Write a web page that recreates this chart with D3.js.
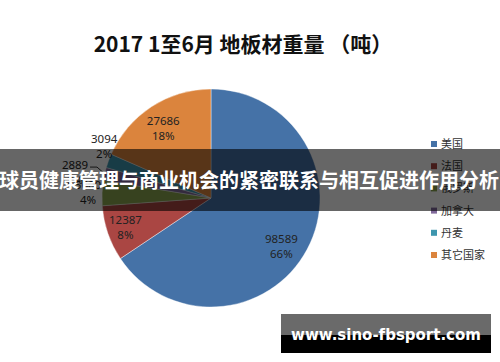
<!DOCTYPE html>
<html>
<head>
<meta charset="utf-8">
<script src="https://cdn.jsdelivr.net/npm/d3@7"></script>
<style>
  body { margin: 0; background: #fff; }
  svg { display: block; }
</style>
</head>
<body>
<svg id="chart" width="500" height="362"></svg>
<script>
	// chart data
	var countries = ["美国", "法国", "俄罗斯", "加拿大", "丹麦", "其它国家"];
	var weights = [98589, 12387, 5600, 2889, 3094, 27686];
	var colors = ["#4572A7", "#AA4643", "#89A54E", "#80699B", "#3D96AE", "#DB843D"];
	var title = "2017 1至6月 地板材重量 （吨）";
	var bannerText = "球员健康管理与商业机会的紧密联系与相互促进作用分析";
	var siteText = "www.sino-fbsport.com";

	// label placement (radius factor, angle nudge in degrees, leader line)
	var labelRadius = [0.78, 0.83, 1.13, 1.27, 1.09, 0.78];
	var labelNudge = [6, 0, 0, -2, 6, -1];
	var labelLeader = [false, false, false, true, false, false];

	var width = 500, height = 362;
	var cx = 211, cy = 198, r = 109;
	var svg = d3.select("#chart");

	svg.append("text")
		.attr("x", 243).attr("y", 52)
		.attr("text-anchor", "middle")
		.style("font-family", "'Noto Sans CJK SC', 'Noto Sans', sans-serif")
		.style("font-weight", "bold")
		.style("font-size", "21px")
		.attr("fill", "#111")
		.text(title);

	var total = d3.sum(weights);
	var pie = d3.pie().sort(null);
	var arcs = pie(weights);
	var arc = d3.arc().innerRadius(0).outerRadius(r);

	var g = svg.append("g").attr("transform", "translate(" + cx + "," + cy + ")");
	g.selectAll("path").data(arcs)
		.enter().append("path")
		.attr("d", arc)
		.attr("fill", function (d, i) { return colors[i]; })
		.attr("stroke", "#fff")
		.attr("stroke-width", 0.4);

	var fmtPct = function (v) { return Math.round(v / total * 100) + "%"; };

	arcs.forEach(function (d, i) {
		var a = (d.startAngle + d.endAngle) / 2 + labelNudge[i] * Math.PI / 180;
		var lr = r * labelRadius[i];
		var x = Math.sin(a) * lr, y = -Math.cos(a) * lr;
		var t = g.append("text")
			.attr("text-anchor", "middle")
			.style("font-family", "'Noto Sans', sans-serif")
			.style("font-size", "11.5px")
			.attr("fill", "#222");
		t.append("tspan").attr("x", x).attr("y", y - 3).text(weights[i]);
		t.append("tspan").attr("x", x).attr("y", y + 12).text(fmtPct(weights[i]));
		if (labelLeader[i]) {
			var ma = (d.startAngle + d.endAngle) / 2;
			g.append("polyline")
				.attr("points", [[x + 15, y - 5], [x + 22, y - 5], [Math.sin(ma) * r, -Math.cos(ma) * r]].join(" "))
				.attr("fill", "none")
				.attr("stroke", "#000")
				.attr("stroke-width", 0.8);
		}
	});

	// legend
	var ly = d3.scalePoint().domain(countries).range([144, 255]);
	var lg = svg.append("g");
	countries.forEach(function (c, i) {
		lg.append("rect")
			.attr("x", 431).attr("y", ly(c) - 3)
			.attr("width", 6).attr("height", 6)
			.attr("fill", colors[i]);
		lg.append("text")
			.attr("x", 441).attr("y", ly(c) + 4)
			.style("font-family", "'Noto Sans CJK SC', sans-serif")
			.style("font-size", "11px")
			.attr("fill", "#333")
			.text(c);
	});

	// overlay banner
	svg.append("rect")
		.attr("x", 0).attr("y", 149)
		.attr("width", width).attr("height", 62)
		.attr("fill", "rgba(0,0,0,0.6)");
	svg.append("text")
		.attr("x", 249).attr("y", 188)
		.attr("text-anchor", "middle")
		.style("font-family", "'Noto Sans CJK SC', sans-serif")
		.style("font-weight", "bold")
		.style("font-size", "20px")
		.attr("fill", "#fff")
		.text(bannerText);

	// site mark
	svg.append("rect").attr("x", 281).attr("y", 314).attr("width", 210).attr("height", 21).attr("fill", "#6a6a6a");
	svg.append("rect").attr("x", 281).attr("y", 335).attr("width", 210).attr("height", 18).attr("fill", "#000");
	svg.append("text")
		.attr("x", 386).attr("y", 340)
		.attr("text-anchor", "middle")
		.style("font-family", "'DejaVu Sans', sans-serif")
		.style("font-weight", "bold")
		.style("font-size", "15px")
		.attr("fill", "#fff")
		.text(siteText);
</script>
</body>
</html>
